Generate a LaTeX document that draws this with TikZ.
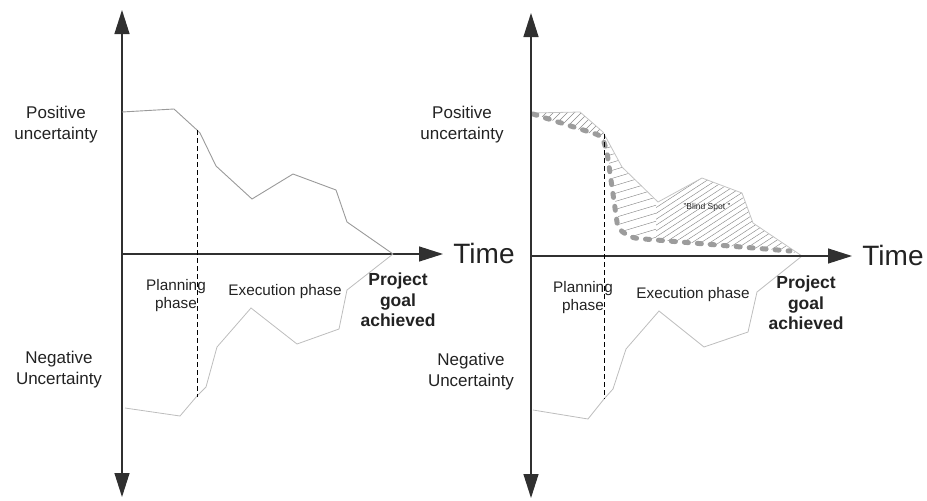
\documentclass[tikz,border=0pt]{standalone}
\usepackage{fontspec}
\setmainfont{Liberation Sans}
\usetikzlibrary{arrows.meta}
\definecolor{axiscol}{HTML}{303030}
\definecolor{txtcol}{HTML}{222222}
\definecolor{upcol}{HTML}{9A9A9A}
\definecolor{lowcol}{HTML}{BDBDBD}
\definecolor{uprcol}{HTML}{C4C4C4}
\definecolor{dashcol}{HTML}{9C9C9C}
\definecolor{hatchcol}{HTML}{8A8A8A}
\tikzset{
  axis/.style={draw=axiscol, line width=1.3pt, {Triangle[length=24pt,width=15pt]}-{Triangle[length=24pt,width=15pt]}},
  haxis/.style={draw=axiscol, line width=1.3pt, -{Triangle[length=24pt,width=15pt]}},
  curveup/.style={draw=upcol, line width=0.9pt},
  curvelow/.style={draw=lowcol, line width=0.8pt},
  curveupr/.style={draw=uprcol, line width=0.8pt},
  phaseline/.style={draw=black, line width=0.9pt, dash pattern=on 5pt off 3pt},
  blind/.style={draw=dashcol, line width=5pt, line cap=round, dash pattern=on 4pt off 9pt, rounded corners=6pt},
  hatch/.style={draw=hatchcol, line width=0.45pt},
  lbl/.style={text=txtcol, inner sep=0pt, align=center, font=\fontsize{17}{21}\selectfont},
  phase/.style={text=txtcol, inner sep=0pt, align=center, font=\fontsize{15.3}{18}\selectfont},
  goal/.style={text=txtcol, inner sep=0pt, align=center, font=\fontsize{17.5}{20.5}\selectfont\bfseries},
  timelbl/.style={text=txtcol, inner sep=0pt, font=\fontsize{28}{30}\selectfont},
  small/.style={text=txtcol, inner sep=0pt, font=\fontsize{8.5}{10}\selectfont},
}
\begin{document}
\begin{tikzpicture}[x=1pt,y=-1pt]
\useasboundingbox (0,0) rectangle (927,501);

% ---------------- LEFT PANEL ----------------
\coordinate (Ltop) at (122,10);
\coordinate (Lbot) at (122,497);
\coordinate (Lorig) at (122,254);
\coordinate (Lxend) at (443,254);
\draw[axis] (Ltop) -- (Lbot);
\draw[haxis] (Lorig) -- (Lxend);

\draw[curveup] (122,112) -- (174,109) -- (197,130) -- (200,133) -- (216,166) -- (252,199) -- (293,174) -- (336,190) -- (347,222) -- (393,254);
\draw[curvelow] (125,408) -- (180,416) -- (197,396) -- (206,387) -- (217,347) -- (251,308) -- (297,344) -- (339,329) -- (347,290) -- (393,254);

\coordinate (Lpa) at (197,130);
\coordinate (Lpb) at (197,397);
\draw[phaseline] (Lpa) -- (Lpb);

\node[lbl] (Lpos) at (56,124.5) {Positive\\uncertainty};
\node[lbl] (Lneg) at (59,370) {Negative\\Uncertainty};
\node[phase] (Lplan) at (176,296) {Planning\\phase};
\node[phase] (Lexec) at (285,292) {Execution phase};
\node[goal] (Lgoal) at (398,300) {Project\\goal\\achieved};
\node[timelbl] (Ltime) at (484,253) {Time};

% ---------------- RIGHT PANEL ----------------
\coordinate (Rtop) at (531,13);
\coordinate (Rbot) at (531,498);
\coordinate (Rorig) at (531,256);
\coordinate (Rxend) at (852,256);

% hatching of the blind spot
\begin{scope}
  \clip (531,113) -- (580,112) -- (603,132) -- (622,167) -- (658,202) -- (702,178) -- (742,193) -- (753,223) -- (802,256) -- (790,251) -- (632,238) -- (620,230) -- (607,150) -- (603,138) -- cycle;
  \begin{scope}
    \clip (525,100) rectangle (606,160);
    \foreach \x in {440,447,...,640} { \draw[hatch] (\x,170) -- (\x+90,80); }
  \end{scope}
  \begin{scope}
    \clip (606,140) rectangle (656,245);
    \foreach \y in {150,158,...,262} { \draw[hatch] (600,\y) -- (670,\y-21); }
  \end{scope}
  \begin{scope}
    \clip (656,150) rectangle (810,260);
    \foreach \x in {560,569,...,820} { \draw[hatch] (\x,270) -- (\x+200,140); }
  \end{scope}
\end{scope}

\draw[curveupr] (531,113) -- (580,112) -- (603,132) -- (622,167) -- (658,202) -- (702,178) -- (742,193) -- (753,223) -- (802,256);
\draw[curvelow] (533,410) -- (588,419) -- (604,399) -- (613,389) -- (626,349) -- (659,311) -- (704,347) -- (748,332) -- (757,292) -- (802,256);

\draw[blind] (533,114) -- (602,136) -- (607,152) -- (618,229) -- (632,238) -- (790,251);

\draw[axis] (Rtop) -- (Rbot);
\draw[haxis] (Rorig) -- (Rxend);

\coordinate (Rpa) at (604,134);
\coordinate (Rpb) at (604,399);
\draw[phaseline] (Rpa) -- (Rpb);

\node[lbl] (Rpos) at (462,125) {Positive\\uncertainty};
\node[lbl] (Rneg) at (471,372) {Negative\\Uncertainty};
\node[phase] (Rplan) at (583,298) {Planning\\phase};
\node[phase] (Rexec) at (693,295) {Execution phase};
\node[goal] (Rgoal) at (806,303) {Project\\goal\\achieved};
\node[timelbl] (Rtime) at (893,255) {Time};
\node[small] (Rblind) at (707,207) {"Blind Spot "};
\end{tikzpicture}
\end{document}
